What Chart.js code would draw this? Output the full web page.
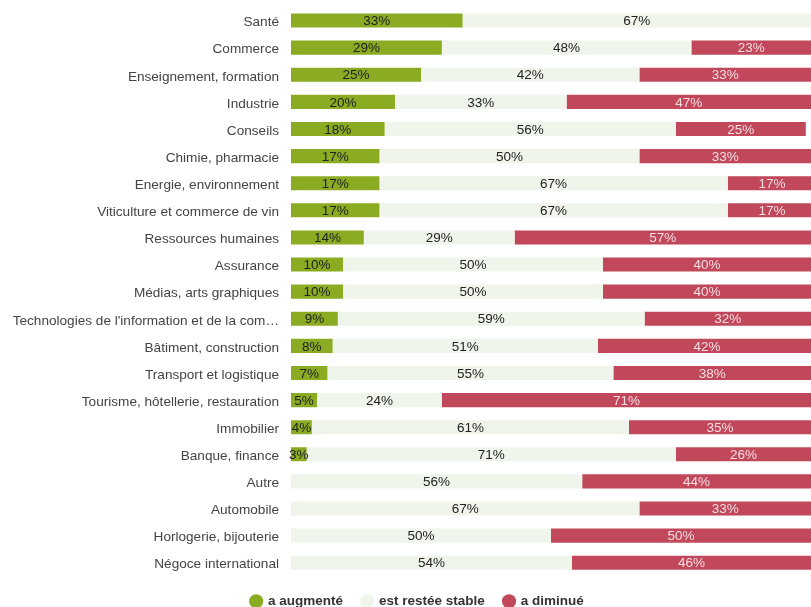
<!DOCTYPE html>
<html>
<head>
<meta charset="utf-8">
<script src="https://cdn.jsdelivr.net/npm/chart.js@4"></script>
<style>
  body { margin: 0; background: #fff; }
  #wrap { width: 811px; height: 607px; position: relative; }
</style>
</head>
<body>
<div id="wrap"><canvas id="myChart"></canvas></div>
<script>
const categories = [
  "Santé", "Commerce", "Enseignement, formation", "Industrie", "Conseils",
  "Chimie, pharmacie", "Energie, environnement", "Viticulture et commerce de vin",
  "Ressources humaines", "Assurance", "Médias, arts graphiques",
  "Technologies de l'information et de la com…", "Bâtiment, construction",
  "Transport et logistique", "Tourisme, hôtellerie, restauration", "Immobilier",
  "Banque, finance", "Autre", "Automobile", "Horlogerie, bijouterie", "Négoce international"
]
const augmente = [33, 29, 25, 20, 18, 17, 17, 17, 14, 10, 10, 9, 8, 7, 5, 4, 3, 0, 0, 0, 0]
const stable   = [67, 48, 42, 33, 56, 50, 67, 67, 29, 50, 50, 59, 51, 55, 24, 61, 71, 56, 67, 50, 54]
const diminue  = [0, 23, 33, 47, 25, 33, 17, 17, 57, 40, 40, 32, 42, 38, 71, 35, 26, 44, 33, 50, 46]

const FONT = '"Liberation Sans", Arial, sans-serif'

// labels in the middle of each segment
const barLabels = {
  id: 'barLabels',
  afterDatasetsDraw(chart) {
    const ctx = chart.ctx
    ctx.save()
    ctx.font = '13.5px ' + FONT
    ctx.textAlign = 'center'
    ctx.textBaseline = 'middle'
    chart.data.datasets.forEach((ds, i) => {
      const meta = chart.getDatasetMeta(i)
      meta.data.forEach((bar, j) => {
        const v = ds.data[j]
        if (!v) return
        ctx.fillStyle = ds.labelColor
        ctx.fillText(v + '%', (bar.x + bar.base) / 2, bar.y + 1)
      })
    })
    ctx.restore()
  }
}

// legend sits a little right of centre in the original
const legendShift = {
  id: 'legendShift',
  afterLayout(chart) {
    chart.legend.left += 12
    chart.legend.right += 12
  }
}

new Chart("myChart", {
  type: "bar",
  data: {
    labels: categories,
    datasets: [
      { label: "a augmenté", data: augmente, backgroundColor: "#8aab22", labelColor: "#222" },
      { label: "est restée stable", data: stable, backgroundColor: "#eff5ea", labelColor: "#222" },
      { label: "a diminué", data: diminue, backgroundColor: "#c0485a", labelColor: "#f6dde2" }
    ]
  },
  plugins: [barLabels, legendShift],
  options: {
    indexAxis: 'y',
    responsive: true,
    maintainAspectRatio: false,
    animation: false,
    layout: { padding: { top: 7, right: 0, left: 0, bottom: -11 } },
    datasets: { bar: { barPercentage: 0.52, categoryPercentage: 1 } },
    scales: {
      x: { stacked: true, display: false, min: 0, max: 100 },
      y: {
        stacked: true,
        grid: { display: false, drawTicks: false },
        border: { display: false },
        afterFit: (axis) => {
          axis.width = 291
          axis.paddingTop = 0
          axis.paddingBottom = 0
        },
        ticks: {
          color: '#444',
          padding: 12,
          labelOffset: 2,
          autoSkip: false,
          font: { size: 13.6, family: FONT }
        }
      }
    },
    plugins: {
      tooltip: { enabled: false },
      legend: {
        position: 'bottom',
        title: { display: true, text: ' ', font: { size: 1 }, padding: { top: 9, bottom: 0 } },
        labels: {
          usePointStyle: true,
          pointStyle: 'circle',
          boxWidth: 10,
          boxHeight: 10,
          padding: 8,
          color: '#333',
          font: { size: 13.5, weight: 'bold', family: FONT },
          generateLabels: (chart) => {
            const items = Chart.defaults.plugins.legend.labels.generateLabels(chart)
            items[0].text += '   '
            items[1].text += '   '
            return items
          }
        }
      }
    }
  }
})
</script>
</body>
</html>
